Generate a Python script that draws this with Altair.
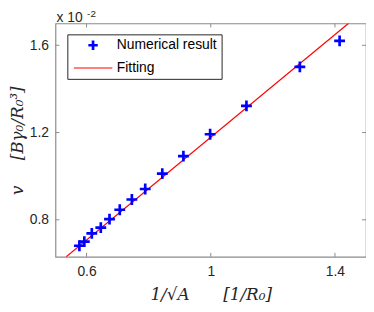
import altair as alt
import pandas as pd

# data
x_vals = [0.577, 0.593, 0.617, 0.646, 0.674, 0.707, 0.746, 0.789, 0.844, 0.912, 0.998, 1.115, 1.287, 1.415]
y_vals = [0.681, 0.700, 0.738, 0.764, 0.803, 0.846, 0.893, 0.941, 1.012, 1.092, 1.192, 1.322, 1.501, 1.620]
fit_x = [0.534, 1.445]
fit_y = [0.630, 1.702]
x_ticks = [0.6, 1.0, 1.4]
y_ticks = [0.8, 1.2, 1.6]
series = ["Numerical result", "Fitting"]
x_domain = [0.5, 1.5]
y_domain = [0.63, 1.70]

W, H = 314, 236
FRAME = "#8c8c8c"
TXT = "#262626"

pts = pd.DataFrame({"x": x_vals, "y": y_vals, "series": series[0]})
fit = pd.DataFrame({"x": fit_x, "y": fit_y})
xt = pd.DataFrame({"v": x_ticks})
yt = pd.DataFrame({"v": y_ticks})

xs = alt.Scale(domain=x_domain, nice=False, zero=False)
ys = alt.Scale(domain=y_domain, nice=False, zero=False)

x_axis = alt.Axis(values=x_ticks, format="~g", title="1/√A\u2003\u2003[1/R₀]", grid=False, domain=False,
                  ticks=False, labelPadding=8, titlePadding=8)
y_axis = alt.Axis(values=y_ticks, format="~g", title="v\u2003\u2002[Bγ₀/R₀³]", grid=False, domain=False,
                  ticks=False, labelPadding=7, titlePadding=3)

line = alt.Chart(fit).mark_line(color="#ff0000", strokeWidth=1.3, clip=True).encode(
    x=alt.X("x:Q", scale=xs, axis=x_axis),
    y=alt.Y("y:Q", scale=ys, axis=y_axis),
)

points = alt.Chart(pts).mark_point(filled=False, opacity=1, clip=True).encode(
    x=alt.X("x:Q", scale=xs),
    y=alt.Y("y:Q", scale=ys),
    color=alt.Color("series:N", scale=alt.Scale(domain=series, range=["#0000ff", "#ff0000"]),
                    legend=alt.Legend(title=None, orient="none", legendX=12, legendY=11,
                                      padding=4, symbolOffset=15, labelOffset=17, rowPadding=5,
                                      strokeColor=TXT, fillColor="white", labelFontSize=14,
                                      labelFont="Liberation Sans", labelColor="black",
                                      symbolSize=90)),
    shape=alt.Shape("series:N", scale=alt.Scale(domain=series, range=["M-1,0H1M0,-1V1", "M-4.1,0H4.1"]),
                    legend=alt.Legend(title=None)),
    strokeWidth=alt.StrokeWidth("series:N", scale=alt.Scale(domain=series, range=[2.7, 1.2]),
                                legend=alt.Legend(title=None)),
    size=alt.value(120),
)

def xtick(y0, y1):
    return alt.Chart(xt).mark_rule(color=FRAME, strokeWidth=1).encode(
        x=alt.X("v:Q", scale=xs), y=alt.value(y0), y2=alt.value(y1))

def ytick(x0, x1):
    return alt.Chart(yt).mark_rule(color=FRAME, strokeWidth=1).encode(
        y=alt.Y("v:Q", scale=ys), x=alt.value(x0), x2=alt.value(x1))

ticks = xtick(H, H - 4) + xtick(0, 4) + ytick(0, 4) + ytick(W, W - 4)

exp_base = alt.Chart(pd.DataFrame({"t": ["x 10"]})).mark_text(
    align="left", baseline="alphabetic", fontSize=14, font="Liberation Sans", color=TXT
).encode(text="t:N", x=alt.value(1), y=alt.value(-1.5))
exp_sup = alt.Chart(pd.DataFrame({"t": ["-2"]})).mark_text(
    align="left", baseline="alphabetic", fontSize=10, font="Liberation Sans", color=TXT
).encode(text="t:N", x=alt.value(32), y=alt.value(-6.5))

chart = alt.layer(ticks, line, points, exp_base, exp_sup).properties(
    width=W, height=H,
    autosize=alt.AutoSizeParams(type="none"),
    padding={"left": 48, "top": 14, "right": 0, "bottom": 46},
).configure_view(stroke=FRAME, strokeWidth=1.2).configure_axis(
    labelFont="Liberation Sans", labelFontSize=14, labelColor=TXT,
    titleFont="DejaVu Serif", titleFontSize=17, titleFontStyle="italic",
    titleFontWeight="normal", titleColor=TXT,
)

chart.save("out.html", embed_options={"renderer": "svg", "actions": False})
